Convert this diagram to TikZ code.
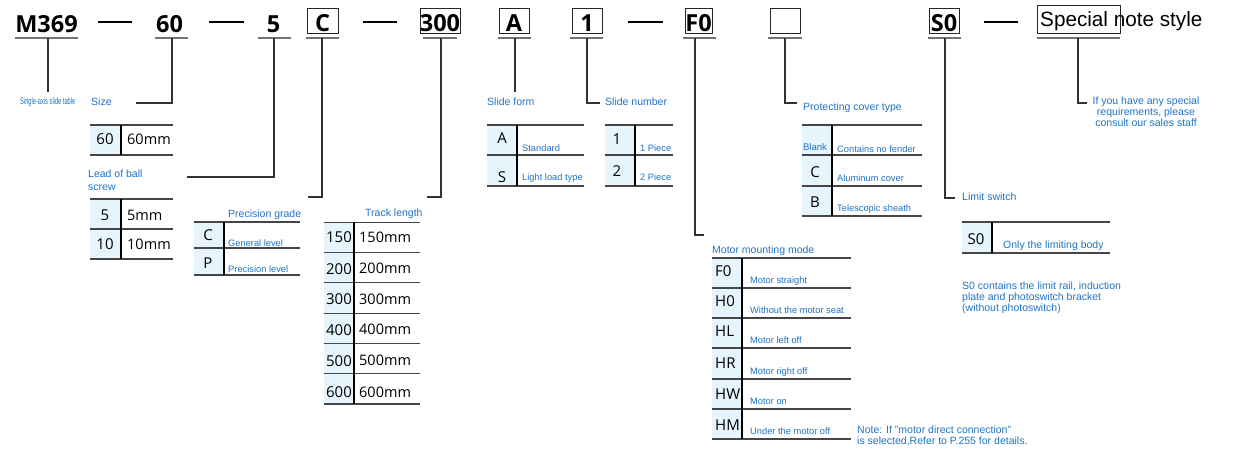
\documentclass[tikz,border=0pt]{standalone}
\usepackage{fontspec}
\setmainfont{Liberation Sans}
\newfontfamily\osans{Open Sans}
\definecolor{myblue}{RGB}{30,115,195}
\definecolor{lfill}{RGB}{230,244,252}
\definecolor{tline}{RGB}{70,70,70}
\definecolor{cgray}{RGB}{55,50,50}
\definecolor{ugray}{RGB}{115,115,115}
\begin{document}
\begin{tikzpicture}[x=1pt,y=-1pt,
  hdr/.style={font=\osans\bfseries\fontsize{23.5}{26}\selectfont, inner sep=0, anchor=base},
  spec/.style={font=\fontsize{20.7}{24}\selectfont, inner sep=0, anchor=base west},
  blab/.style={font=\fontsize{10.5}{12}\selectfont, text=myblue, inner sep=0, anchor=base west},
  desc/.style={font=\fontsize{9.3}{11}\selectfont, text=myblue, inner sep=0, anchor=base west},
  code/.style={font=\osans\fontsize{15}{17}\selectfont, inner sep=0},
  val/.style={font=\osans\fontsize{14.5}{16}\selectfont, inner sep=0, anchor=west},
  hl/.style={draw=tline, line width=1.3},
  vd/.style={draw=black, line width=1.1},
  conn/.style={draw=cgray, line width=1.1},
  ul/.style={draw=ugray, line width=2},
  dashl/.style={draw=black, line width=1.6},
  bx/.style={draw=black!85, line width=1}]
\useasboundingbox (0,0) rectangle (1252,460);

% ---------- header ----------
\node[hdr] (m369) at (46.5,33) {M369};
\node[hdr] (c60) at (169.5,33) {60};
\node[hdr] (c5) at (273.5,33) {5};
\node[hdr] (cC) at (322.5,32) {C};
\node[hdr] (c300) at (440,32) {300};
\node[hdr] (cA) at (514,32) {A};
\node[hdr] (c1) at (587,32) {1};
\node[hdr] (cF0) at (698.5,32) {F0};
\node[hdr] (cS0) at (944,32) {S0};
\node[spec] (spec) at (1040,27) {Special note style};

\draw[bx] (307,9) rectangle (338,34);
\draw[bx] (420,9) rectangle (460,34);
\draw[bx] (499,9) rectangle (529,34);
\draw[bx] (572,9) rectangle (602,34);
\draw[bx] (685,9) rectangle (712,34);
\draw[bx] (770,9) rectangle (800,34);
\draw[bx] (929,9) rectangle (959,34);
\draw[bx] (1037,6) rectangle (1120,34);

\draw[dashl] (98,22) -- (132,22);
\draw[dashl] (209,22) -- (244,22);
\draw[dashl] (363,22) -- (397,22);
\draw[dashl] (628,22) -- (663,22);
\draw[dashl] (984,22) -- (1018,22);

\draw[ul] (15,38) -- (78,38);
\draw[ul] (155,38) -- (188,38);
\draw[ul] (258,38) -- (291,38);
\draw[ul] (306,38) -- (339,38);
\draw[ul] (423,38) -- (457,38);
\draw[ul] (498,38) -- (531,38);
\draw[ul] (570,38) -- (603,38);
\draw[ul] (683,38) -- (716,38);
\draw[ul] (768,38) -- (802,38);
\draw[ul] (928,38) -- (961,38);
\draw[ul] (1037,38) -- (1120,38);

% ---------- connector anchors ----------
\coordinate (um) at (48,38);    \coordinate (em) at (48,92);
\coordinate (u60) at (172,38);  \coordinate (e60) at (136,103);
\coordinate (u5) at (274,38);   \coordinate (e5) at (187,177);
\coordinate (uC) at (322,38);   \coordinate (eC) at (308,197);
\coordinate (u300) at (441,38); \coordinate (e300) at (427,197);
\coordinate (uA) at (515,38);   \coordinate (eA) at (515,92);
\coordinate (u1) at (587,38);   \coordinate (e1) at (600,103);
\coordinate (uF) at (695,38);   \coordinate (eF) at (704,235);
\coordinate (uE) at (785,38);   \coordinate (eE) at (797,103);
\coordinate (uS) at (945,38);   \coordinate (eS) at (955,198);
\coordinate (uX) at (1078,38);  \coordinate (eX) at (1087,103);

\draw[conn] (um) -- (em);
\draw[conn] (u60) |- (e60);
\draw[conn] (u5) |- (e5);
\draw[conn] (uC) |- (eC);
\draw[conn] (u300) |- (e300);
\draw[conn] (uA) -- (eA);
\draw[conn] (u1) |- (e1);
\draw[conn] (uF) |- (eF);
\draw[conn] (uE) |- (eE);
\draw[conn] (uS) |- (eS);
\draw[conn] (uX) |- (eX);

% ---------- labels ----------
\node[inner sep=0, anchor=base west, text=myblue, font=\fontsize{9.5}{10}\selectfont] (lsingle) at (20,104.5) {\scalebox{0.6}[1]{Single-axis slide table}};
\node[blab] (lsize) at (91,105) {Size};
\node[blab, anchor=north west, align=left, font=\fontsize{10.5}{12.3}\selectfont] (llead) at (88,170) {Lead of ball\\screw};
\node[blab] (lprec) at (228,217) {Precision grade};
\node[blab] (ltrack) at (365,216) {Track length};
\node[blab] (lform) at (487,105) {Slide form};
\node[blab] (lnum) at (605,105) {Slide number};
\node[blab] (lprot) at (803,110) {Protecting cover type};
\node[blab] (lmotor) at (712,253) {Motor mounting mode};
\node[blab] (llimit) at (962,200) {Limit switch};
\node[blab, anchor=north, align=center, font=\fontsize{10.5}{11.2}\selectfont] (lspec) at (1146,96.5) {If you have any special\\requirements, please\\consult our sales staff};
\node[blab, anchor=north west, align=left, font=\fontsize{10.5}{10.8}\selectfont] (ls0) at (962,282) {S0 contains the limit rail, induction\\plate and photoswitch bracket\\(without photoswitch)};
\node[blab, anchor=north west, align=left, font=\fontsize{10.5}{11}\selectfont] (lnote) at (857,425.5) {Note: If "motor direct connection"\\is selected,Refer to P.255 for details.};

% ---------- size table ----------
\fill[lfill] (90,125) rectangle (121,155);
\draw[hl] (90,125) -- (173,125) (90,155) -- (173,155);
\draw[vd] (121,125) -- (121,155);
\node[code] (t60) at (105,139) {60};
\node[val] (v60) at (127,139) {60mm};

% ---------- lead table ----------
\fill[lfill] (90,199) rectangle (121,259);
\draw[hl] (90,199) -- (173,199) (90,229) -- (173,229) (90,259) -- (173,259);
\draw[vd] (121,199) -- (121,259);
\node[code] (t5) at (105,215) {5};
\node[val] (v5) at (127,215) {5mm};
\node[code] (t10) at (105,244.5) {10};
\node[val] (v10) at (127,244.5) {10mm};

% ---------- precision table ----------
\fill[lfill] (194,222) rectangle (224,275);
\draw[hl] (194,222) -- (300,222) (194,248) -- (300,248) (194,275) -- (300,275);
\draw[vd] (224,222) -- (224,275);
\node[code] (tC) at (208,235.5) {C};
\node[desc] (dC) at (228,246) {General level};
\node[code] (tP) at (208,263.5) {P};
\node[desc] (dP) at (228,272.5) {Precision level};

% ---------- track table ----------
\fill[lfill] (324,222.3) rectangle (354,404);
\foreach \yy in {222.3,252.3,282.7,313.3,343.3,373.3,404}
  \draw[hl] (324,\yy) -- (420,\yy);
\draw[vd] (354,222.3) -- (354,404);
\foreach \nm/\yy in {150/237.5,200/268.7,300/299,400/329.7,500/360.7,600/392}{
  \node[code] (t\nm) at (339,\yy) {\nm};
  \node[val] (v\nm) at (359,\yy) {\nm mm};
}

% ---------- slide form ----------
\fill[lfill] (487,125) rectangle (517,186);
\draw[hl] (487,125) -- (584,125) (487,155) -- (584,155) (487,186) -- (584,186);
\draw[vd] (517,125) -- (517,186);
\node[code] (tA) at (502,138) {A};
\node[desc] (dA) at (522,151) {Standard};
\node[code] (tS) at (502,177) {S};
\node[desc] (dS) at (522,180) {Light load type};

% ---------- slide number ----------
\fill[lfill] (605,125) rectangle (635,186);
\draw[hl] (605,125) -- (673,125) (605,155) -- (673,155) (605,186) -- (673,186);
\draw[vd] (635,125) -- (635,186);
\node[code] (tn1) at (617,139) {1};
\node[desc] (dn1) at (640,151) {1 Piece};
\node[code] (tn2) at (617,171) {2};
\node[desc] (dn2) at (640,180) {2 Piece};

% ---------- protecting cover ----------
\fill[lfill] (802,125) rectangle (832,216);
\draw[hl] (802,125) -- (922,125) (802,155) -- (922,155) (802,186) -- (922,186) (802,216) -- (922,216);
\draw[vd] (832,125) -- (832,216);
\node[inner sep=0, font=\fontsize{9.6}{11}\selectfont, text=myblue] (tBl) at (815,147) {Blank};
\node[desc] (dBl) at (837,152) {Contains no fender};
\node[code] (tpC) at (815,172) {C};
\node[desc] (dpC) at (837,181) {Aluminum cover};
\node[code] (tpB) at (815,202) {B};
\node[desc] (dpB) at (837,211) {Telescopic sheath};

% ---------- motor table ----------
\fill[lfill] (712,258) rectangle (742,439);
\foreach \yy in {258,288,318,348,379,409,439}
  \draw[hl] (712,\yy) -- (851,\yy);
\draw[vd] (742,258) -- (742,439);
\node[code, anchor=west] (mF0) at (715,271) {F0};
\node[desc] (dF0) at (750,283.5) {Motor straight};
\node[code, anchor=west] (mH0) at (715,301) {H0};
\node[desc] (dH0) at (750,313.5) {Without the motor seat};
\node[code, anchor=west] (mHL) at (715,331.5) {HL};
\node[desc] (dHL) at (750,343.5) {Motor left off};
\node[code, anchor=west] (mHR) at (715,363.5) {HR};
\node[desc] (dHR) at (750,374) {Motor right off};
\node[code, anchor=west] (mHW) at (715,394) {HW};
\node[desc] (dHW) at (750,404) {Motor on};
\node[code, anchor=west] (mHM) at (715,425) {HM};
\node[desc] (dHM) at (750,434) {Under the motor off};

% ---------- limit table ----------
\fill[lfill] (962,222) rectangle (992,253);
\draw[hl] (962,222) -- (1110,222) (962,253) -- (1110,253);
\draw[vd] (992,222) -- (992,253);
\node[code] (tL) at (976,239.5) {S0};
\node[blab] (dL) at (1003,248) {Only the limiting body};
\end{tikzpicture}
\end{document}
